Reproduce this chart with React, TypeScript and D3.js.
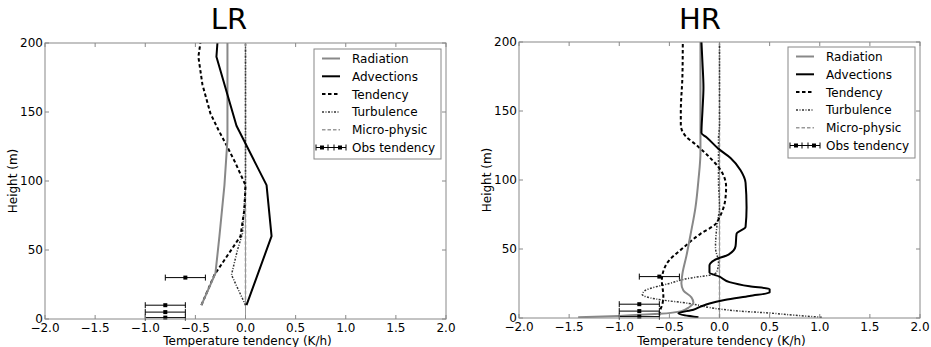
import * as d3 from 'd3'

type Pt = [number, number] // [tendency K/h, height m]

// ---- LR profiles ----
const lrRadiation: Pt[] = [[-0.44, 10], [-0.3, 33], [-0.26, 60], [-0.21, 97], [-0.18, 130], [-0.18, 200]]
const lrAdvections: Pt[] = [[0.01, 10], [0.11, 30], [0.26, 60], [0.21, 97], [-0.09, 140], [-0.29, 190], [-0.28, 200]]
const lrTendency: Pt[] = [
  [-0.44, 10], [-0.31, 32], [-0.05, 60], [-0.01, 80], [0.0, 97], [-0.1, 113], [-0.19, 126],
  [-0.27, 137], [-0.35, 149], [-0.43, 170], [-0.47, 190], [-0.45, 200],
]
const lrTurbulence: Pt[] = [[0.0, 10], [-0.14, 32], [-0.08, 50], [-0.03, 62], [0.0, 97], [0.0, 200]]
const lrMicro: Pt[] = [[0, 10], [0, 200]]

// ---- HR profiles ----
const hrRadiation: Pt[] = [
  [-1.41, 0.5], [-1.0, 1.5], [-0.6, 3], [-0.38, 5], [-0.3, 8], [-0.26, 11], [-0.28, 15], [-0.36, 20],
  [-0.38, 25], [-0.37, 32], [-0.33, 45], [-0.29, 60], [-0.24, 80], [-0.21, 100], [-0.19, 120],
  [-0.19, 160], [-0.19, 200],
]
const hrAdvections: Pt[] = [
  [-0.21, 0.5], [-0.41, 3.4], [-0.26, 6], [-0.18, 8.5], [-0.1, 10.5], [0.05, 13], [0.3, 16], [0.5, 18.5],
  [0.5, 21], [0.3, 23], [0.1, 26], [0.0, 30], [-0.1, 33], [-0.1, 38], [-0.05, 42], [0.09, 46], [0.16, 52],
  [0.17, 61], [0.26, 66], [0.27, 80], [0.26, 98], [0.21, 107], [0.11, 116], [0.0, 122], [-0.13, 131],
  [-0.18, 134], [-0.17, 150], [-0.16, 167], [-0.17, 185], [-0.18, 200],
]
const hrTendency: Pt[] = [
  [-0.6, 2], [-0.59, 6], [-0.57, 10], [-0.56, 16], [-0.575, 27], [-0.53, 39], [-0.36, 51], [-0.19, 61],
  [-0.04, 68], [0.0, 73], [0.056, 85], [0.066, 95], [0.013, 107], [-0.093, 116], [-0.226, 125],
  [-0.34, 132], [-0.386, 140], [-0.386, 150], [-0.37, 175], [-0.366, 200],
]
const hrTurbulence: Pt[] = [
  [1.02, 0.5], [0.75, 2], [0.5, 3.6], [0.2, 5], [0.0, 6.5], [-0.3, 10.5], [-0.63, 13.7], [-0.77, 17],
  [-0.74, 20], [-0.5, 25], [-0.29, 29], [-0.1, 31], [-0.03, 33], [-0.01, 40], [-0.04, 51], [-0.02, 70],
  [0.0, 80], [-0.01, 100], [-0.01, 130], [0.0, 140], [0.0, 200],
]
const hrMicro: Pt[] = [[0, 0.5], [0, 200]]

// ---- observations (same in both panels) ----
const obsHeight = [1, 5, 10, 30]
const obsValue = [-0.8, -0.8, -0.8, -0.6]
const obsError = [0.2, 0.2, 0.2, 0.2]

const xTicks = [-2, -1.5, -1, -0.5, 0, 0.5, 1, 1.5, 2]
const yTicks = [0, 50, 100, 150, 200]
const legendLabels = ['Radiation', 'Advections', 'Tendency', 'Turbulence', 'Micro-physic', 'Obs tendency']

const FONT = 'DejaVu Sans, sans-serif'

interface SeriesStyle {
  stroke: string
  width: number
  dash?: string
}
const styles: SeriesStyle[] = [
  { stroke: '#888', width: 2 },
  { stroke: '#000', width: 2 },
  { stroke: '#000', width: 2, dash: '3.5,2.5' },
  { stroke: '#333', width: 1.5, dash: '2,1.5,1,1.5' },
  { stroke: '#999', width: 1.5, dash: '3.5,2' },
]

interface PanelProps {
  id: string
  title: string
  series: Pt[][]
  smooth: boolean
  x0: number
  x1: number
  y0: number
  y1: number
  titleX: number
  legend: { x: number; y: number; w: number; h: number }
}

function Panel({ id, title, series, smooth, x0, x1, y0, y1, titleX, legend }: PanelProps) {
  const x = d3.scaleLinear().domain([-2, 2]).range([x0, x1])
  const y = d3.scaleLinear().domain([0, 200]).range([y1, y0])
  const line = d3
    .line<Pt>()
    .x((d) => x(d[0]))
    .y((d) => y(d[1]))
    .curve(smooth ? d3.curveMonotoneY : d3.curveLinear)
  const fmt = d3.format('.1f')
  const tick = 4

  const errorBar = (cx: number, cy: number, half: number, key: string) => (
    <g key={key} stroke="#000" strokeWidth={1}>
      <line x1={cx - half} x2={cx + half} y1={cy} y2={cy} />
      <line x1={cx - half} x2={cx - half} y1={cy - 3} y2={cy + 3} />
      <line x1={cx + half} x2={cx + half} y1={cy - 3} y2={cy + 3} />
      <rect x={cx - 2} y={cy - 2} width={4} height={4} fill="#000" stroke="none" />
    </g>
  )

  return (
    <g fontFamily={FONT}>
      <defs>
        <clipPath id={`clip-${id}`}>
          <rect x={x0} y={y0} width={x1 - x0} height={y1 - y0} />
        </clipPath>
      </defs>
      <text x={titleX} y={29} fontSize={29} textAnchor="middle" fill="#000">
        {title}
      </text>

      <g clipPath={`url(#clip-${id})`}>
        <line x1={x(0)} x2={x(0)} y1={y0} y2={y1} stroke="#999" strokeWidth={1} />
        {[4, 3, 2, 0, 1].map((i) => (
          <path
            key={i}
            d={line(series[i]) ?? ''}
            fill="none"
            stroke={styles[i].stroke}
            strokeWidth={styles[i].width}
            strokeDasharray={styles[i].dash}
            strokeLinejoin="round"
          />
        ))}
      </g>
      {obsHeight.map((h, i) =>
        errorBar(x(obsValue[i]), y(h), x(obsError[i]) - x(0), `obs${i}`),
      )}

      {/* frame */}
      <rect x={x0} y={y0} width={x1 - x0} height={y1 - y0} fill="none" stroke="#888" strokeWidth={1} />
      {xTicks.map((t) => (
        <g key={`x${t}`}>
          <line x1={x(t)} x2={x(t)} y1={y1} y2={y1 - tick} stroke="#888" />
          <line x1={x(t)} x2={x(t)} y1={y0} y2={y0 + tick} stroke="#888" />
          <text x={x(t)} y={y1 + 13} fontSize={12} textAnchor="middle" fill="#000">
            {fmt(t)}
          </text>
        </g>
      ))}
      {yTicks.map((t) => (
        <g key={`y${t}`}>
          <line x1={x0} x2={x0 + tick} y1={y(t)} y2={y(t)} stroke="#888" />
          <line x1={x1} x2={x1 - tick} y1={y(t)} y2={y(t)} stroke="#888" />
          <text x={x0 - 2} y={y(t) + 4} fontSize={12} textAnchor="end" fill="#000">
            {t}
          </text>
        </g>
      ))}
      <text x={(x0 + x1) / 2 + 2} y={345} fontSize={12} textAnchor="middle" fill="#000">
        Temperature tendency (K/h)
      </text>
      <text
        transform={`translate(${x0 - 28},${(y0 + y1) / 2}) rotate(-90)`}
        fontSize={12}
        textAnchor="middle"
        fill="#000"
      >
        Height (m)
      </text>

      {/* legend */}
      <rect x={legend.x} y={legend.y} width={legend.w} height={legend.h} fill="#fff" stroke="#888" strokeWidth={1} />
      {legendLabels.map((label, i) => {
        const cy = legend.y + 9.5 + i * 17.8
        const lx = legend.x + 8
        return (
          <g key={label}>
            {i < 5 ? (
              <line
                x1={lx}
                x2={lx + 18}
                y1={cy}
                y2={cy}
                stroke={styles[i].stroke}
                strokeWidth={styles[i].width}
                strokeDasharray={styles[i].dash}
              />
            ) : (
              <g>
                <line x1={legend.x + 2} x2={legend.x + 32} y1={cy} y2={cy} stroke="#000" />
                {errorBar(legend.x + 8, cy, 6, 'l1')}
                {errorBar(legend.x + 26, cy, 6, 'l2')}
              </g>
            )}
            <text x={legend.x + 38} y={cy + 4.5} fontSize={12} fill="#000">
              {label}
            </text>
          </g>
        )
      })}
    </g>
  )
}

export default function App() {
  return (
    <svg
      width={931}
      height={347}
      style={{ position: 'absolute', left: 0, top: 0, background: '#fff' }}
    >
      <rect width={931} height={347} fill="#fff" />
      <Panel
        id="lr"
        title="LR"
        series={[lrRadiation, lrAdvections, lrTendency, lrTurbulence, lrMicro]}
        smooth={false}
        x0={45}
        x1={446}
        y0={43}
        y1={319}
        titleX={229}
        legend={{ x: 314, y: 49, w: 127, h: 110 }}
      />
      <Panel
        id="hr"
        title="HR"
        series={[hrRadiation, hrAdvections, hrTendency, hrTurbulence, hrMicro]}
        smooth={true}
        x0={519}
        x1={920}
        y0={42}
        y1={318}
        titleX={700}
        legend={{ x: 788, y: 47, w: 127, h: 111 }}
      />
    </svg>
  )
}
